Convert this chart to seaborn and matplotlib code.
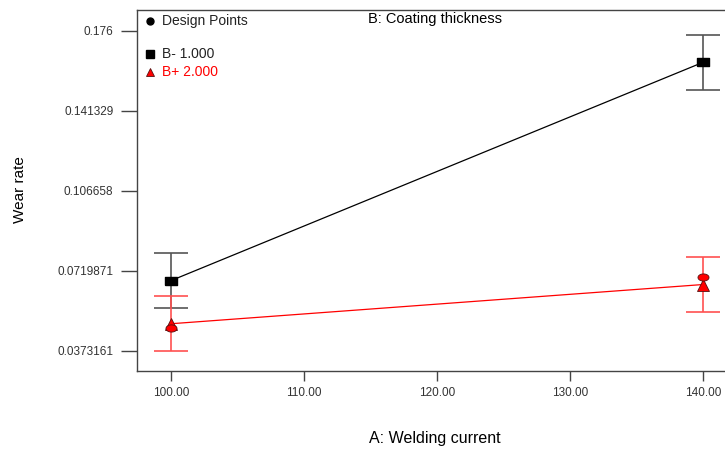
import numpy as np
import pandas as pd
import matplotlib
matplotlib.use("Agg")
import matplotlib.pyplot as plt
import seaborn as sns

# Interaction plot: wear rate vs welding current at two coating thicknesses
currents = [100, 140]
wear_b_low = [0.0677, 0.1623]     # B- 1.000
wear_b_high = [0.0490, 0.0660]    # B+ 2.000
lsd_half_low = [0.0119, 0.0119]
lsd_half_high = [0.0120, 0.0119]
design_current = [100, 140]
design_wear = [0.0472, 0.0694]

y_ticks = [0.0373161, 0.0719871, 0.106658, 0.141329, 0.176]
y_tick_labels = ["0.0373161", "0.0719871", "0.106658", "0.141329", "0.176"]
x_ticks = [100, 110, 120, 130, 140]
x_tick_labels = ["100.00", "110.00", "120.00", "130.00", "140.00"]

level_names = ["B- 1.000", "B+ 2.000"]

sns.set_style("white")
plt.rcParams["font.family"] = ["Liberation Sans", "DejaVu Sans"]

W, H = 725, 451
fig = plt.figure(figsize=(W / 100, H / 100), dpi=100)
ax = fig.add_axes([137 / W, 1 - 371 / H, (W - 137) / W, (371 - 10) / H])

df = pd.DataFrame({
    "current": currents * 2,
    "wear": wear_b_low + wear_b_high,
    "level": [level_names[0]] * 2 + [level_names[1]] * 2,
})
palette = {level_names[0]: "black", level_names[1]: "#ff0000"}
sns.lineplot(data=df, x="current", y="wear", hue="level", palette=palette,
             linewidth=0.9, legend=False, ax=ax, zorder=2)

# error bars
ax.errorbar(currents, wear_b_low, yerr=lsd_half_low, fmt="none",
            ecolor="#555555", elinewidth=1.2, capsize=12, capthick=1.2, zorder=1)
ax.errorbar(currents, wear_b_high, yerr=lsd_half_high, fmt="none",
            ecolor="#ff5050", elinewidth=1.2, capsize=12, capthick=1.2, zorder=1)

rect = [(-1, -0.58), (1, -0.58), (1, 0.58), (-1, 0.58), (-1, -0.58)]
ax.plot(currents, wear_b_low, linestyle="none", marker=rect, markersize=9,
        color="black", zorder=4)
ax.plot(currents, wear_b_high, linestyle="none", marker="^", markersize=8,
        markerfacecolor="#ff0000", markeredgecolor="#551111", markeredgewidth=0.6,
        zorder=4)
ellipse = [(np.cos(t), 0.65 * np.sin(t)) for t in np.linspace(0, 2 * np.pi, 25)]
ax.plot(design_current, design_wear, linestyle="none", marker=ellipse,
        markersize=8, markerfacecolor="#ff0000", markeredgecolor="#551111",
        markeredgewidth=0.6, zorder=5)

ax.set_xlim(97.44, 141.65)
ax.set_ylim(0.02852, 0.18497)
ax.set_xticks(x_ticks)
ax.set_xticklabels(x_tick_labels)
ax.set_yticks(y_ticks)
ax.set_yticklabels(y_tick_labels)
ax.set_xlabel("")
ax.set_ylabel("")
ax.tick_params(axis="y", direction="out", length=11.5, width=1.0, color="#444444",
               pad=5.5, labelsize=8.5, labelcolor="#333333", left=True)
ax.tick_params(axis="x", direction="out", length=7.2, width=1.0, color="#444444",
               pad=4, labelsize=8.5, labelcolor="#333333", bottom=True)

for side in ["left", "bottom", "top"]:
    ax.spines[side].set_color("#444444")
    ax.spines[side].set_linewidth(1.0)
ax.spines["right"].set_visible(False)

def fx(px):
    return px / W

def fy(py):
    return 1 - py / H

# key in the upper-left corner
fig.lines.append(plt.Line2D([fx(150)], [fy(21)], marker="o", markersize=5,
                            color="black", linestyle="none",
                            transform=fig.transFigure))
fig.text(fx(162), fy(21), "Design Points", fontsize=10, va="center", ha="left",
         color="#222222")
fig.lines.append(plt.Line2D([fx(150)], [fy(54)], marker="s", markersize=5.5,
                            color="black", linestyle="none",
                            transform=fig.transFigure))
fig.text(fx(162), fy(54), level_names[0], fontsize=10, va="center", ha="left",
         color="#222222")
fig.lines.append(plt.Line2D([fx(150)], [fy(72)], marker="^", markersize=6,
                            markerfacecolor="#ff0000", markeredgecolor="#551111",
                            markeredgewidth=0.6, linestyle="none",
                            transform=fig.transFigure))
fig.text(fx(162), fy(72), level_names[1], fontsize=10, va="center", ha="left",
         color="#ff0000")

fig.text(fx(435), fy(19), "B: Coating thickness", fontsize=10.5, va="center",
         ha="center", color="black")
fig.text(fx(435), fy(438), "A: Welding current", fontsize=11.5, va="center",
         ha="center", color="black")
fig.text(fx(20), fy(190), "Wear rate", fontsize=11, va="center", ha="center",
         rotation=90, color="black")

fig.savefig("out.png", dpi=100)
